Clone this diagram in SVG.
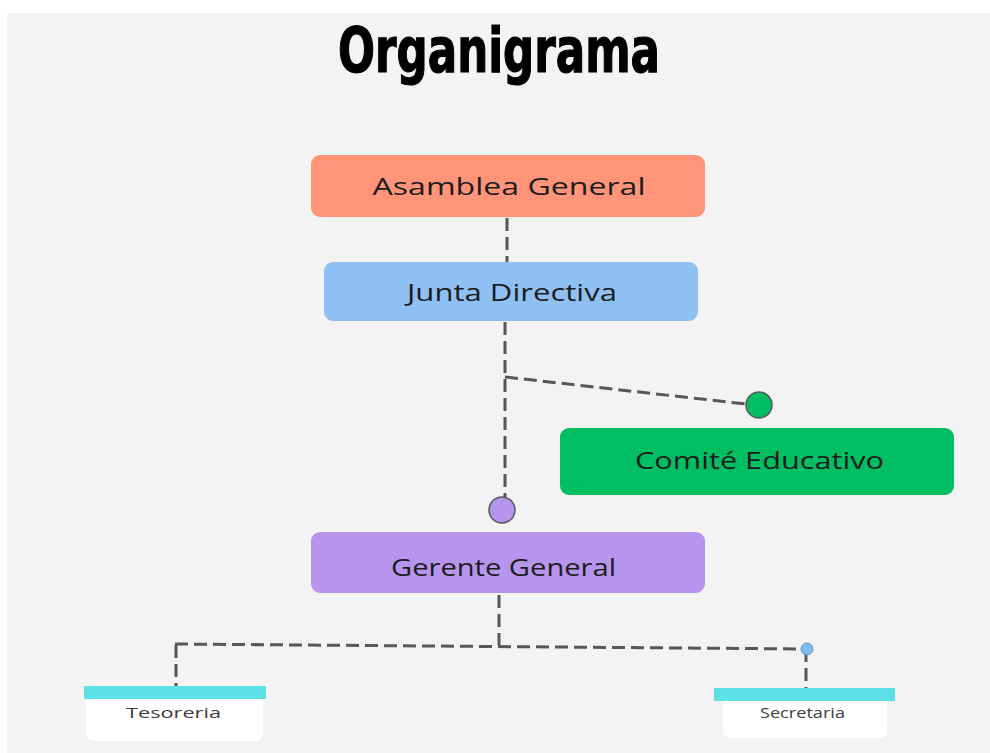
<svg xmlns="http://www.w3.org/2000/svg" width="990" height="753" viewBox="0 0 990 753">
<defs>
<style>
.lbl{font-family:"Open Sans","Noto Sans","Liberation Sans",sans-serif;fill:#1c1c1c;text-anchor:middle;}
.big{font-size:24px;}
.small{font-size:15px;fill:#3d3d3d;}
.dash{fill:none;stroke:#575757;stroke-width:3;stroke-dasharray:13 6;}
.dot{stroke:#5a5a5a;stroke-width:1.5;}
</style>
</defs>
<rect x="0" y="0" width="990" height="753" fill="#ffffff"/>
<rect x="7" y="13" width="983" height="740" fill="#f3f3f3"/>
<text x="499" y="72" font-family="'Liberation Sans Narrow','DejaVu Sans Condensed','Liberation Sans',sans-serif" font-weight="bold" font-size="63" textLength="322" lengthAdjust="spacingAndGlyphs" text-anchor="middle" fill="#000" stroke="#000" stroke-width="1.2">Organigrama</text>

<g id="connectors">
<path class="dash" d="M507 218 V262"/>
<path class="dash" d="M505 322 V497"/>
<path class="dash" d="M505 377 L746 404"/>
<path class="dash" d="M499 595 V645"/>
<path class="dash" d="M175 644 L807 649"/>
<path class="dash" d="M176 645 V686"/>
<path class="dash" d="M806 649 V688"/>
<circle class="dot" cx="502" cy="510" r="13" fill="#b794ed"/>
<circle class="dot" cx="759" cy="405" r="13" fill="#00bf63"/>
<circle cx="807" cy="649" r="6" fill="#7fbdf0" stroke="#6d8fb0" stroke-width="1"/>
</g>

<g id="asamblea">
<rect x="311" y="155" width="394" height="62" rx="9" fill="#ff9478"/>
<text class="lbl big" x="509" y="195" textLength="273" lengthAdjust="spacingAndGlyphs">Asamblea General</text>
</g>
<g id="junta">
<rect x="324" y="262" width="374" height="59" rx="9" fill="#8ec0f3"/>
<text class="lbl big" x="512" y="301" textLength="210" lengthAdjust="spacingAndGlyphs">Junta Directiva</text>
</g>
<g id="comite">
<rect x="560" y="428" width="394" height="67" rx="9" fill="#00bf63"/>
<text class="lbl big" x="759.5" y="469" textLength="249" lengthAdjust="spacingAndGlyphs">Comité Educativo</text>
</g>
<g id="gerente">
<rect x="311" y="532" width="394" height="61" rx="9" fill="#b794ed"/>
<text class="lbl big" x="503.5" y="576" textLength="225" lengthAdjust="spacingAndGlyphs">Gerente General</text>
</g>
<g id="tesoreria">
<path d="M86 699 H263 V733 Q263 741 255 741 H94 Q86 741 86 733 Z" fill="#ffffff"/>
<rect x="84" y="686" width="182" height="13" fill="#5ee1e6"/>
<text class="lbl small" x="173.5" y="718" textLength="95" lengthAdjust="spacingAndGlyphs">Tesoreria</text>
</g>
<g id="secretaria">
<path d="M723 701 H887 V730 Q887 738 879 738 H731 Q723 738 723 730 Z" fill="#ffffff"/>
<rect x="714" y="688" width="181" height="13" fill="#5ee1e6"/>
<text class="lbl small" x="802.5" y="718" font-size="13" textLength="85" lengthAdjust="spacingAndGlyphs">Secretaria</text>
</g>
</svg>
